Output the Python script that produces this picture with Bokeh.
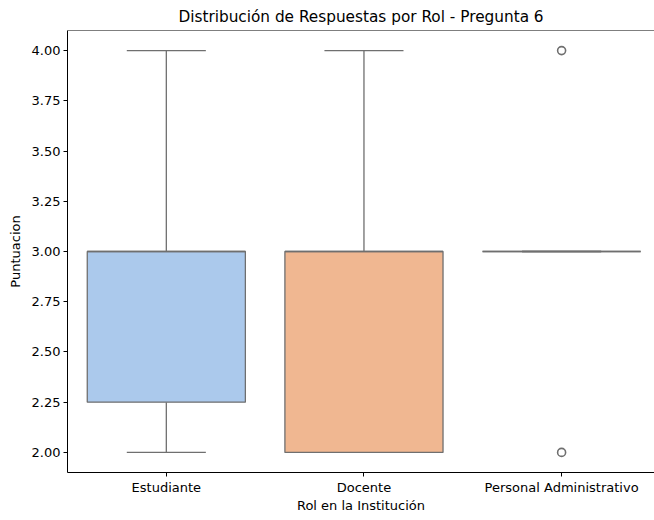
from bokeh.plotting import figure
from bokeh.models import Range1d, FixedTicker, NumeralTickFormatter, ColumnDataSource, Span
from bokeh.embed import file_html
from bokeh.resources import INLINE

categories = ["Estudiante", "Docente", "Personal Administrativo"]
q1 = [2.25, 2.0, 3.0]
median = [3.0, 3.0, 3.0]
q3 = [3.0, 3.0, 3.0]
whisker_low = [2.0, 2.0, 3.0]
whisker_high = [4.0, 4.0, 3.0]
box_colors = ["#abc9ec", "#f0b791", "#9fdcaa"]
outlier_cat = ["Personal Administrativo", "Personal Administrativo"]
outlier_val = [4.0, 2.0]
y_ticks = [2.0, 2.25, 2.5, 2.75, 3.0, 3.25, 3.5, 3.75, 4.0]

LINE = "#6f6f6f"
FONT = "DejaVu Sans"

xpos = list(range(len(categories)))
src = ColumnDataSource(dict(
    x=xpos, q1=q1, med=median, q3=q3, lo=whisker_low, hi=whisker_high,
    color=box_colors,
    x0=[x - 0.4 for x in xpos], x1=[x + 0.4 for x in xpos],
    c0=[x - 0.2 for x in xpos], c1=[x + 0.2 for x in xpos],
))
osrc = ColumnDataSource(dict(
    x=[categories.index(c) for c in outlier_cat], y=outlier_val))

p = figure(width=654, height=520, output_backend="svg", toolbar_location=None,
           x_range=Range1d(-0.5, 2.47), y_range=Range1d(1.9, 4.1),
           title="Distribución de Respuestas por Rol - Pregunta 6",
           min_border_left=67, min_border_right=0, min_border_bottom=48,
           min_border_top=0)
p.title.text_font = FONT
p.title.text_font_size = "15.3px"
p.title.text_font_style = "normal"
p.title.align = "center"
p.title.text_color = "#000000"
p.title.offset = 2

# whiskers
p.segment(x0="x", y0="q3", x1="x", y1="hi", source=src, line_color=LINE, line_width=1.3)
p.segment(x0="x", y0="lo", x1="x", y1="q1", source=src, line_color=LINE, line_width=1.3)
p.segment(x0="c0", y0="hi", x1="c1", y1="hi", source=src, line_color=LINE, line_width=1.3)
p.segment(x0="c0", y0="lo", x1="c1", y1="lo", source=src, line_color=LINE, line_width=1.3)
# boxes
p.quad(left="x0", right="x1", bottom="q1", top="q3", source=src,
       fill_color="color", line_color=LINE, line_width=1.3)
# medians
p.segment(x0="x0", y0="med", x1="x1", y1="med", source=src, line_color=LINE, line_width=1.3)
# outliers
p.scatter(x="x", y="y", source=osrc, size=8, fill_color=None,
          line_color=LINE, line_width=1.6)

p.xgrid.visible = False
p.ygrid.visible = False
p.outline_line_color = None
p.add_layout(Span(location=4.1, dimension="width", line_color="#000000", line_width=1))

p.xaxis.ticker = FixedTicker(ticks=xpos)
p.xaxis.major_label_overrides = {i: c for i, c in enumerate(categories)}
p.yaxis.ticker = FixedTicker(ticks=y_ticks)
p.yaxis.formatter = NumeralTickFormatter(format="0.00")
p.xaxis.axis_label = "Rol en la Institución"
p.yaxis.axis_label = "Puntuacion"
for ax in (p.xaxis, p.yaxis):
    ax.major_label_text_font = FONT
    ax.major_label_text_font_size = "13px"
    ax.major_label_text_color = "#000000"
    ax.axis_label_text_font = FONT
    ax.axis_label_text_font_size = "13px"
    ax.axis_label_text_font_style = "normal"
    ax.axis_label_text_color = "#000000"
    ax.minor_tick_line_color = None
    ax.major_tick_in = 0
    ax.major_tick_out = 4
    ax.major_tick_line_color = "#000000"
    ax.axis_line_color = "#000000"
p.xaxis.major_label_standoff = 3
p.yaxis.major_label_standoff = 3
p.xaxis.axis_label_standoff = 0
p.yaxis.axis_label_standoff = 6

open("out.html", "w").write(file_html(p, INLINE))
